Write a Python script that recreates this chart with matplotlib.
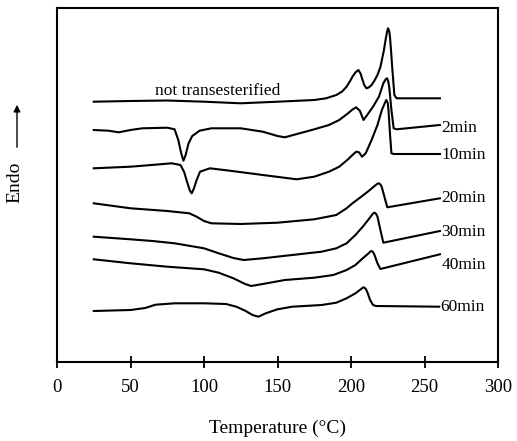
import matplotlib
matplotlib.use("Agg")
import matplotlib.pyplot as plt

plt.rcParams['font.family'] = ['Liberation Serif', 'DejaVu Serif']

# Temperature (deg C) and heat-flow signal (arbitrary units, endo up, offset curves)
t_nt = [25, 50, 75, 100, 125, 150, 175, 183, 190, 194, 197, 199, 201, 203, 205, 206.5, 207.5, 209, 210.5, 212, 214, 216, 218, 220, 221, 222.3, 223.5, 224.5, 225.2, 226, 226.5, 227.3, 228, 229.5, 231, 260.5]
s_nt = [260.3, 261, 261.5, 260.3, 258.7, 260.3, 262, 263.7, 267, 270.5, 275.3, 280, 285.3, 289.5, 292, 288.5, 283.7, 277, 273.7, 274.5, 277, 281.5, 287, 295, 302, 311, 322, 330, 333.7, 331, 325.3, 310, 295.3, 267, 263.7, 263.7]

t_2 = [25, 35, 42, 50, 58, 75, 80, 82.5, 84.5, 86, 87.5, 89.5, 92, 97, 105, 125, 140, 150, 155, 165, 175, 185, 192, 198, 201, 203.5, 206, 208.5, 211, 215, 219, 222, 223.5, 224.5, 225.3, 226, 227.5, 229, 231, 260.5]
s_2 = [232, 231.3, 229.7, 232, 233.7, 234.3, 232.7, 222, 208.7, 201.3, 207, 218.7, 226, 231.3, 233.7, 233.7, 230.3, 226, 224.7, 228.7, 232.7, 237, 242, 248.7, 252.5, 254.7, 251.3, 242, 247, 255.3, 265.3, 278.7, 282.5, 283.7, 281, 275.3, 252, 233.7, 232.7, 237]

t_10 = [25, 50, 70, 78, 84, 86.5, 88.5, 90.5, 91.6, 93, 95, 97.3, 104, 117.5, 140, 163, 175, 185, 192, 198, 201, 203.5, 205.5, 207.5, 210, 214, 218, 221, 223, 224, 225, 225.5, 226.5, 227.5, 229, 260.5]
s_10 = [193.7, 195.3, 197.7, 198.7, 197, 190, 180, 171, 168.7, 173, 182, 190.3, 193.7, 191.3, 187, 182.7, 185.3, 190.3, 195.3, 202.7, 207, 210.3, 209.7, 205.3, 208.7, 222, 237, 252, 259, 262, 259, 252, 228.7, 208.7, 208, 208]

t_20 = [25, 50, 75, 90, 95, 100, 105, 125, 150, 175, 190, 197, 201, 207, 212, 216, 218, 219, 220, 221, 223, 224.7, 260.5]
s_20 = [158.7, 153.7, 151, 148.7, 145.3, 141, 138.7, 138, 139.3, 142.7, 147, 153.7, 158.7, 165.3, 171, 176, 178.3, 178.7, 177.5, 174.7, 163.7, 154.7, 163.7]

t_30 = [25, 50, 65, 80, 100, 110, 120, 127, 140, 160, 180, 190, 197, 203, 208, 212, 215, 216, 217, 218, 220, 222, 260.5]
s_30 = [125.3, 122.7, 121, 118.7, 113.7, 108.7, 104, 102, 103.7, 107, 110.3, 113.7, 118.7, 127, 135.3, 142.7, 148.5, 149.3, 148.3, 145.3, 132, 119.3, 131]

t_40 = [25, 50, 75, 100, 110, 120, 128, 132, 140, 155, 175, 188, 197, 203, 208, 212, 213.2, 214, 215, 216, 218, 220, 260.5]
s_40 = [102.7, 98.7, 95.3, 92.7, 89.3, 83.7, 78, 76, 78, 82, 84.3, 87, 92, 97, 103.7, 108.7, 110.5, 111, 110, 107, 98.7, 93, 107.7]

t_60 = [25, 50, 60, 67, 80, 100, 115, 122, 128, 133, 137, 142, 150, 160, 180, 190, 197, 203, 206, 208, 208.8, 210, 211, 213, 215, 217, 260]
s_60 = [51, 52, 54, 57.3, 58.7, 58.7, 58, 55.3, 51.3, 47, 45.3, 48.7, 52.7, 55.3, 57, 59.3, 63.7, 68.7, 72, 74.3, 74.7, 73.2, 70.3, 62, 57, 56, 55.3]

series = [(t_nt, s_nt, None), (t_2, s_2, "2min"), (t_10, s_10, "10min"),
          (t_20, s_20, "20min"), (t_30, s_30, "30min"), (t_40, s_40, "40min"),
          (t_60, s_60, "60min")]
label_dy = {"2min": -3, "10min": -1, "20min": 0, "30min": -1, "40min": -11, "60min": 0}

x_ticks = [0, 50, 100, 150, 200, 250, 300]

fig = plt.figure(figsize=(5.17, 4.41), dpi=100)
ax = fig.add_axes([57/517, 1 - 362/441, (498-57)/517, (362-7.5)/441])

for t, s, lab in series:
    ax.plot(t, s, color='black', lw=1.5, solid_joinstyle='round')
    if lab:
        ax.text(t[-1] + 1.0, s[-1] + label_dy[lab], lab, fontsize=12.5, va='center', ha='left')

ax.text(66.5, 271, "not transesterified", fontsize=12.5, va='center', ha='left')

ax.set_xlim(0, 300)
ax.set_ylim(0, 354.5)
ax.set_xticks(x_ticks)
ax.set_yticks([])
ax.tick_params(axis='x', direction='inout', length=8, width=1.3, labelsize=13.5, pad=8)
for sp in ax.spines.values():
    sp.set_linewidth(1.5)
ax.set_xlabel("Temperature (°C)", fontsize=14, labelpad=17)

fig.text(15/517, 1 - 182.5/441, "Endo", rotation=90, fontsize=14, ha='center', va='center')
fig.add_artist(matplotlib.patches.FancyArrowPatch((17/517, 1 - 150/441), (17/517, 1 - 102/441),
               transform=fig.transFigure, arrowstyle='-|>', mutation_scale=10, lw=1.0, color='black'))

fig.savefig("out.png", dpi=100)
